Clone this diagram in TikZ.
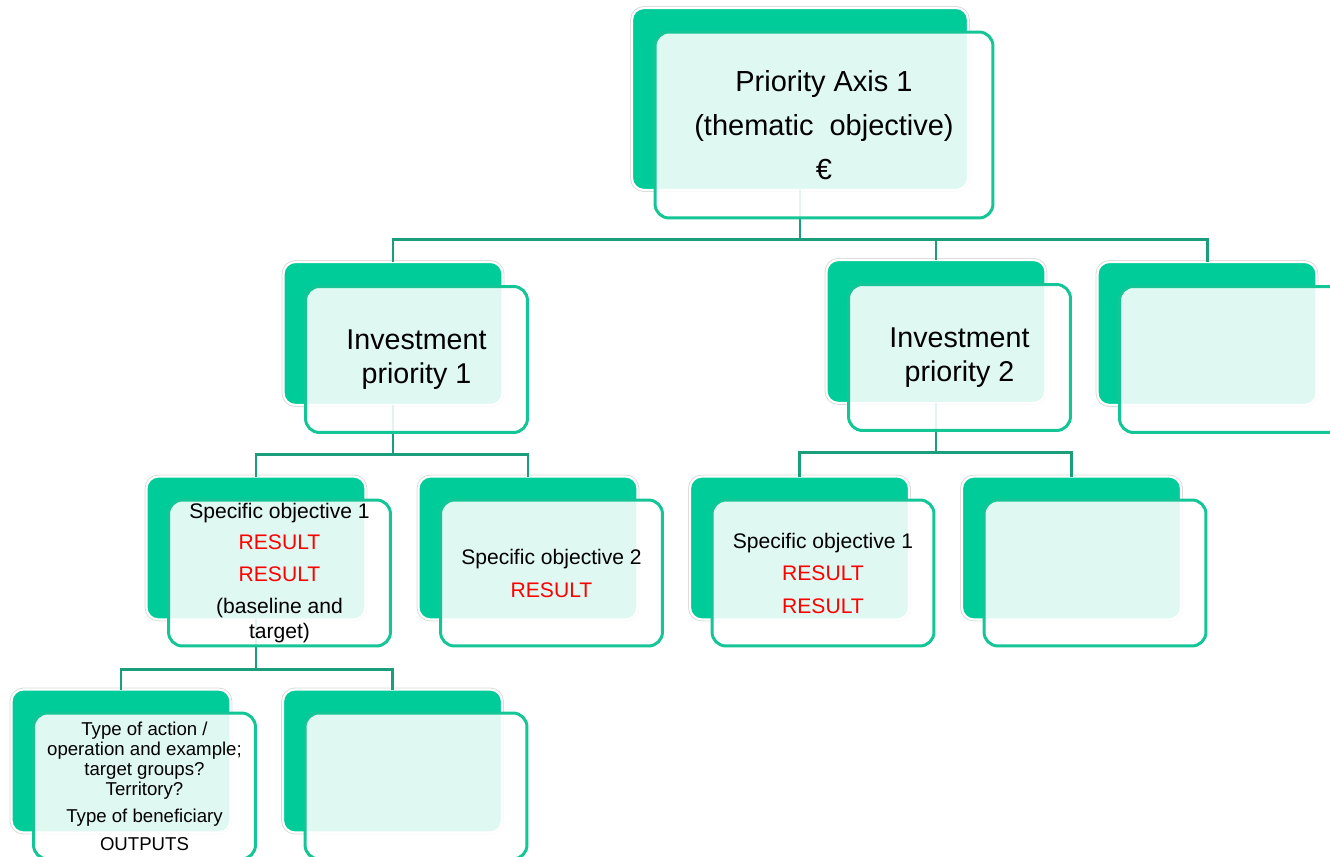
\documentclass[tikz,border=0pt]{standalone}
\usepackage{fontspec}
\setmainfont{Liberation Sans}
\definecolor{mint}{HTML}{00CC99}
\definecolor{mintline}{HTML}{14C596}
\definecolor{linkgreen}{HTML}{1A9E7C}
\definecolor{rim}{HTML}{D9D9D9}
\begin{document}
\begin{tikzpicture}[x=0.02cm,y=-0.02cm,
  back/.style={rectangle, rounded corners=0.24cm, fill=mint, minimum width=4.38cm, minimum height=2.86cm,
    inner sep=0pt, outer sep=0pt, preaction={draw=rim, line width=2.2pt}, draw=white, line width=1.2pt},
  front/.style={rectangle, rounded corners=0.28cm, fill=white, fill opacity=0.88, text opacity=1,
    draw=mintline, line width=1.7pt, minimum width=4.44cm, minimum height=2.92cm,
    inner sep=0pt, outer sep=0pt, align=center},
  link/.style={draw=linkgreen, line width=1.7pt}]
        %Khung
            \useasboundingbox (0,0) rectangle (1330,857);
            \clip (0,0) rectangle (1330,857);
        %Hop sau
        \node[back, minimum width=6.72cm, minimum height=3.64cm] (axisb) at (800,99) {};
        \foreach \n/\x/\y in{
        ip1b/393/333.5, ip2b/936/331.5, ip3b/1207/333.5,
        so1b/256/548, so2b/528/548, so3b/799.5/548, so4b/1071.5/548,
        act1b/121/761, act2b/392.5/761}{\node[back] (\n) at (\x,\y) {};}
        %Duong noi
        \foreach \p/\c in{
        axisb/ip1b, axisb/ip2b, axisb/ip3b,
        ip1b/so1b, ip1b/so2b, ip2b/so3b, ip2b/so4b,
        so1b/act1b, so1b/act2b}{\draw[link] (\p.south) -- ++(0,50) -| (\c.north);}
        %Hop truoc
        \node[front, minimum width=6.76cm, minimum height=3.72cm, font=\fontsize{16.5}{25}\selectfont]
            (axis) at ([shift={(24,26)}]axisb.center) {Priority Axis 1\\(thematic \ objective)\\€};
        \node[front, font=\fontsize{16.3}{19.3}\selectfont] (ip1) at ([shift={(23.5,26)}]ip1b.center)
            {Investment\\priority 1};
        \node[front, font=\fontsize{16.3}{19.3}\selectfont] (ip2) at ([shift={(23.5,26)}]ip2b.center)
            {Investment\\priority 2};
        \node[front] (ip3) at ([shift={(23.5,26)}]ip3b.center) {};
        \node[front, font=\fontsize{12}{14.2}\selectfont] (so1) at ([shift={(23.5,25)}]so1b.center)
            {Specific objective 1\\[4pt]\textcolor{red}{RESULT}\\[4pt]\textcolor{red}{RESULT}\\[4pt](baseline and\\target)};
        \node[front, font=\fontsize{12}{14.2}\selectfont] (so2) at ([shift={(23.5,25)}]so2b.center)
            {Specific objective 2\\[4.6pt]\textcolor{red}{RESULT}};
        \node[front, font=\fontsize{12}{14.2}\selectfont] (so3) at ([shift={(23.5,25)}]so3b.center)
            {Specific objective 1\\[4.3pt]\textcolor{red}{RESULT}\\[4.3pt]\textcolor{red}{RESULT}};
        \node[front] (so4) at ([shift={(23.5,25)}]so4b.center) {};
        \node[front, font=\fontsize{10.6}{11.4}\selectfont] (act1) at ([shift={(23.5,25)}]act1b.center)
            {Type of action /\\operation and example;\\target groups?\\Territory?\\[4pt]Type of beneficiary\\[4.5pt]OUTPUTS};
        \node[front] (act2) at ([shift={(23.5,25)}]act2b.center) {};
\end{tikzpicture}
\end{document}
